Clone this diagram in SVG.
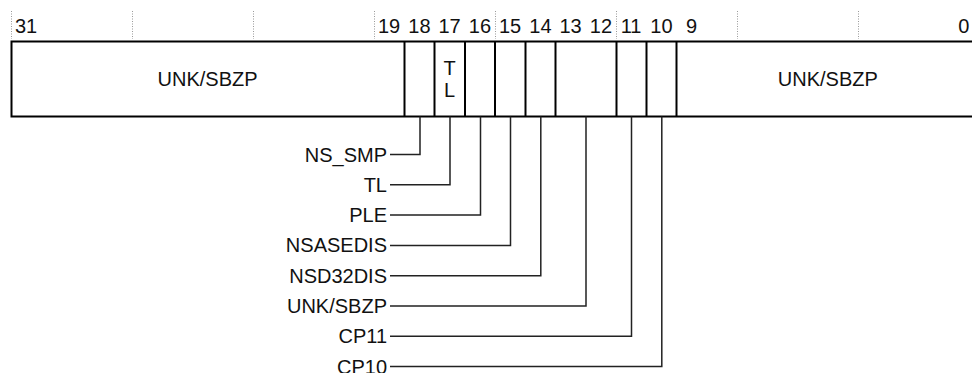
<svg xmlns="http://www.w3.org/2000/svg" width="972" height="373" viewBox="0 0 972 373">
<style>
text{font-family:"Liberation Sans",Arial,sans-serif;font-size:20px;fill:#111}
.num{text-anchor:middle}
.mid{text-anchor:middle}
.lbl{text-anchor:end}
.tick{stroke:#999;stroke-width:1;stroke-dasharray:1,1.5;fill:none}
.box{stroke:#000;stroke-width:2;fill:#fff}
.div{stroke:#000;stroke-width:2;fill:none}
.lead{stroke:#222;stroke-width:1.5;fill:none}
</style>
<rect width="972" height="373" fill="#fff"/>
<g id="ruler">
<line class="tick" x1="11.5" y1="11" x2="11.5" y2="39"/>
<line class="tick" x1="132.5" y1="11" x2="132.5" y2="39"/>
<line class="tick" x1="253.5" y1="11" x2="253.5" y2="39"/>
<line class="tick" x1="374.5" y1="11" x2="374.5" y2="39"/>
<line class="tick" x1="495.5" y1="11" x2="495.5" y2="39"/>
<line class="tick" x1="616.5" y1="11" x2="616.5" y2="39"/>
<line class="tick" x1="737.5" y1="11" x2="737.5" y2="39"/>
<line class="tick" x1="858.5" y1="11" x2="858.5" y2="39"/>
<text class="num" x="26.1" y="32.5">31</text>
<text class="num" x="389.1" y="32.5">19</text>
<text class="num" x="419.4" y="32.5">18</text>
<text class="num" x="449.6" y="32.5">17</text>
<text class="num" x="479.9" y="32.5">16</text>
<text class="num" x="510.1" y="32.5">15</text>
<text class="num" x="540.4" y="32.5">14</text>
<text class="num" x="570.6" y="32.5">13</text>
<text class="num" x="600.9" y="32.5">12</text>
<text class="num" x="631.1" y="32.5">11</text>
<text class="num" x="661.4" y="32.5">10</text>
<text class="num" x="691.6" y="32.5">9</text>
<text class="num" x="963.9" y="32.5">0</text>
</g>
<g id="register">
<rect class="box" x="11.5" y="41.5" width="975" height="75"/>
<line class="div" x1="404.5" y1="41.5" x2="404.5" y2="116.5"/>
<line class="div" x1="434.5" y1="41.5" x2="434.5" y2="116.5"/>
<line class="div" x1="465" y1="41.5" x2="465" y2="116.5"/>
<line class="div" x1="495" y1="41.5" x2="495" y2="116.5"/>
<line class="div" x1="525.5" y1="41.5" x2="525.5" y2="116.5"/>
<line class="div" x1="555.5" y1="41.5" x2="555.5" y2="116.5"/>
<line class="div" x1="616.5" y1="41.5" x2="616.5" y2="116.5"/>
<line class="div" x1="646.5" y1="41.5" x2="646.5" y2="116.5"/>
<line class="div" x1="676.5" y1="41.5" x2="676.5" y2="116.5"/>
</g>
<g id="field-high"><text class="mid" x="207.6" y="86">UNK/SBZP</text></g>
<g id="field-tl"><text class="mid" x="449.6" y="75">T</text><text class="mid" x="449.6" y="97">L</text></g>
<g id="field-low"><text class="mid" x="827.8" y="86">UNK/SBZP</text></g>
<g id="connectors">
<polyline class="lead" points="420,116.5 420,154.5 390,154.5"/>
<polyline class="lead" points="450,116.5 450,184.8 390,184.8"/>
<polyline class="lead" points="480.5,116.5 480.5,215.1 390,215.1"/>
<polyline class="lead" points="510.5,116.5 510.5,245.4 390,245.4"/>
<polyline class="lead" points="540.8,116.5 540.8,275.7 390,275.7"/>
<polyline class="lead" points="586,116.5 586,306 390,306"/>
<polyline class="lead" points="631.5,116.5 631.5,336.3 390,336.3"/>
<polyline class="lead" points="661.8,116.5 661.8,366.6 390,366.6"/>
</g>
<g id="label-ns_smp"><text class="lbl" x="387" y="161.5">NS_SMP</text></g>
<g id="label-tl"><text class="lbl" x="387" y="191.8">TL</text></g>
<g id="label-ple"><text class="lbl" x="387" y="222.1">PLE</text></g>
<g id="label-nsasedis"><text class="lbl" x="387" y="252.4">NSASEDIS</text></g>
<g id="label-nsd32dis"><text class="lbl" x="387" y="282.7">NSD32DIS</text></g>
<g id="label-unk"><text class="lbl" x="387" y="313">UNK/SBZP</text></g>
<g id="label-cp11"><text class="lbl" x="387" y="343.3">CP11</text></g>
<g id="label-cp10"><text class="lbl" x="387" y="373.6">CP10</text></g>
</svg>
